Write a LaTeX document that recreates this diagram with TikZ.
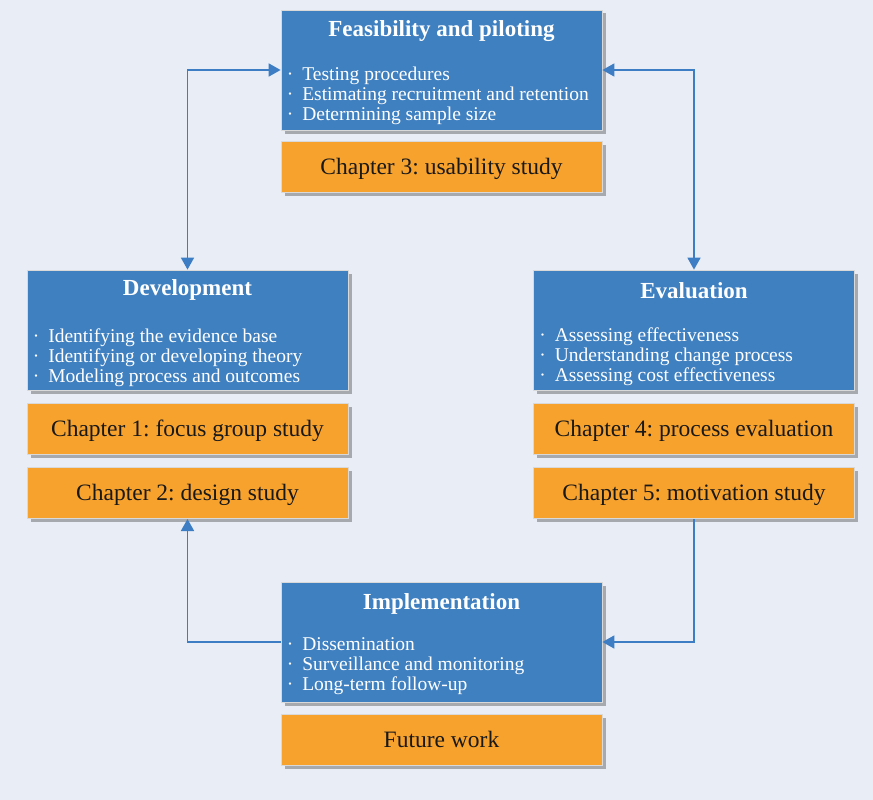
\documentclass[tikz,border=0pt]{standalone}
\usepackage{fontspec}
\setmainfont{Liberation Serif}
\usetikzlibrary{positioning,arrows.meta,shadows}
\frenchspacing
\definecolor{pagebg}{HTML}{E8EDF6}
\definecolor{boxblue}{HTML}{3F80C1}
\definecolor{boxorange}{HTML}{F8A22E}
\definecolor{lineblue}{HTML}{3D7DC3}
\newcommand\listtextstyle{\fontsize{19.5}{20}\selectfont}
\newcommand\boxlist[3]{%
  \begin{tabular}{@{}l@{\hspace{9pt}}l@{}}
    \textperiodcentered & #1 \\
    \textperiodcentered & #2 \\
    \textperiodcentered & #3
  \end{tabular}}

\begin{document}
\begin{tikzpicture}[x=1pt, y=-1pt,
    blockbox/.style={rectangle, inner sep=0, minimum width=321pt,
      draw=white!85!black, line width=0.8pt,
      drop shadow={shadow xshift=3.5pt, shadow yshift=-3.5pt, fill=black!60, opacity=0.5}},
    stagebox/.style={blockbox, fill=boxblue, minimum height=120pt},
    chapterbox/.style={blockbox, fill=boxorange, minimum height=51pt,
      text height=19pt, text depth=5pt,
      font=\fontsize{23.5}{24}\selectfont, text=black!90},
    stagetitle/.style={inner sep=0, text=white, font=\fontsize{23}{24}\selectfont\bfseries},
    stagelist/.style={inner sep=0, anchor=north west, text=white, font=\listtextstyle},
    link/.style={draw=lineblue, line width=1.7pt, {Triangle[width=13pt,length=12pt]}-{Triangle[width=13pt,length=12pt]}},
    onelink/.style={draw=lineblue, line width=1.7pt, -{Triangle[width=13pt,length=12pt]}}]
  \fill[pagebg] (0,0) rectangle (873,800);

  \node[stagebox] (feas) at (441.5,70) {};
  \node[stagetitle] (feastitle) at ([yshift=-21.5pt]feas.north) {Feasibility and piloting};
  \node[stagelist] (feaslist) at ([xshift=6pt, yshift=-57pt]feas.north west)
    {\boxlist{Testing procedures}{Estimating recruitment and retention}{Determining sample size}};
  \node[chapterbox, below=11pt of feas] (chapthree) {Chapter 3: usability study};

  \node[stagebox] (dev) at (187.5,330) {};
  \node[stagetitle] (devtitle) at ([yshift=-20.5pt]dev.north) {Development};
  \node[stagelist] (devlist) at ([xshift=6pt, yshift=-59pt]dev.north west)
    {\boxlist{Identifying the evidence base}{Identifying or developing theory}{Modeling process and outcomes}};
  \node[chapterbox, below=13pt of dev] (chapone) {Chapter 1: focus group study};
  \node[chapterbox, below=12pt of chapone] (chaptwo) {Chapter 2: design study};

  \node[stagebox] (eval) at (694,330) {};
  \node[stagetitle] (evaltitle) at ([yshift=-21pt]eval.north) {Evaluation};
  \node[stagelist] (evallist) at ([xshift=6pt, yshift=-58pt]eval.north west)
    {\boxlist{Assessing effectiveness}{Understanding change process}{Assessing cost effectiveness}};
  \node[chapterbox, below=13pt of eval] (chapfour) {Chapter 4: process evaluation};
  \node[chapterbox, below=12pt of chapfour] (chapfive) {Chapter 5: motivation study};

  \node[stagebox] (impl) at (441.5,642) {};
  \node[stagetitle] (impltitle) at ([yshift=-22pt]impl.north) {Implementation};
  \node[stagelist] (impllist) at ([xshift=6pt, yshift=-55pt]impl.north west)
    {\boxlist{Dissemination}{Surveillance and monitoring}{Long-term follow-up}};
  \node[chapterbox, below=12pt of impl] (future) {Future work};

  \draw[link] (dev.north) |- (feas.west);
  \draw[link] (feas.east) -| (eval.north);
  \draw[onelink] (chapfive.south) |- (impl.east);
  \draw[onelink] (impl.west) -| (chaptwo.south);
\end{tikzpicture}
\end{document}
